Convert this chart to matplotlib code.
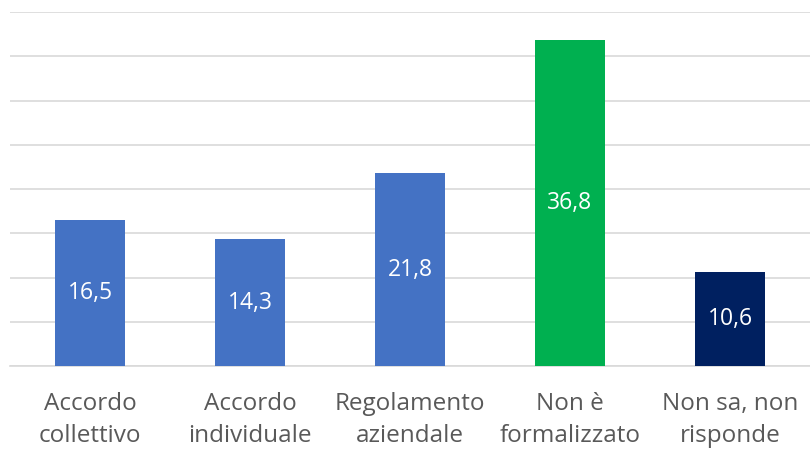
import matplotlib
matplotlib.use("Agg")
import matplotlib.pyplot as plt

categories = ["Accordo\ncollettivo", "Accordo\nindividuale", "Regolamento\naziendale",
              "Non è\nformalizzato", "Non sa, non\nrisponde"]
values = [16.5, 14.3, 21.8, 36.8, 10.6]
colors = ["#4472C4", "#4472C4", "#4472C4", "#00B050", "#002060"]

plt.rcParams["font.family"] = ["Open Sans", "DejaVu Sans"]

fig = plt.figure(figsize=(8.10, 4.49), dpi=100)
ax = fig.add_axes([10 / 810, (449 - 366) / 449, 800 / 810, (366 - 12) / 449])

xs = range(len(categories))
bars = ax.bar(xs, values, width=0.44, color=colors, zorder=3)

for x, v in zip(xs, values):
    ax.text(x, v / 2, f"{v:.1f}".replace(".", ","), ha="center", va="center",
            color="white", fontsize=16.5, zorder=4)

ax.set_xlim(-0.5, len(categories) - 0.5)
ax.set_ylim(0, 40)
ax.set_yticks(range(0, 41, 5))
ax.yaxis.grid(True, color="#D9D9D9", linewidth=1.2, zorder=0)
ax.tick_params(axis="y", left=False, labelleft=False)
ax.tick_params(axis="x", length=0, pad=19)
ax.set_xticks(list(xs))
ax.set_xticklabels(categories, fontsize=17.5, color="#595959", linespacing=1.42)
for side in ("top", "right", "left"):
    ax.spines[side].set_visible(False)
ax.spines["bottom"].set_color("#D9D9D9")
ax.spines["bottom"].set_linewidth(1.2)

fig.savefig("out.png", dpi=100)
